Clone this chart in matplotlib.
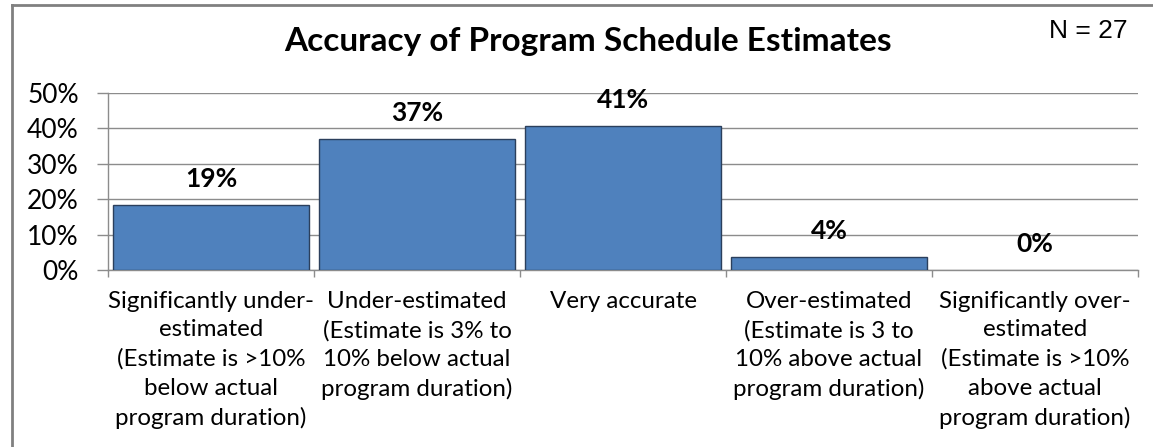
import matplotlib
matplotlib.use('Agg')
import matplotlib.pyplot as plt
from matplotlib.lines import Line2D
import numpy as np

# ── Data ────────────────────────────────────────────────────────────────
categories = [
    "Significantly under-\nestimated\n(Estimate is >10%\nbelow actual\nprogram duration)",
    "Under-estimated\n(Estimate is 3% to\n10% below actual\nprogram duration)",
    "Very accurate",
    "Over-estimated\n(Estimate is 3 to\n10% above actual\nprogram duration)",
    "Significantly over-\nestimated\n(Estimate is >10%\nabove actual\nprogram duration)",
]
shares = [0.185, 0.370, 0.407, 0.037, 0.0]
share_labels = ["19%", "37%", "41%", "4%", "0%"]
y_ticks = [0, 0.1, 0.2, 0.3, 0.4, 0.5]
y_tick_labels = ["0%", "10%", "20%", "30%", "40%", "50%"]

BAR = '#4F81BD'
EDGE = '#2B3F5C'
GRID = '#8C8C8C'
FONT = 'Lato'

fig = plt.figure(figsize=(11.53, 4.47), dpi=100)
ax = fig.add_axes([108 / 1153, 1 - 270 / 447, (1138 - 108) / 1153, (270 - 93) / 447])

x = np.arange(len(categories))
# no outline on empty bars, so the 0% column leaves the axis line alone
edge_widths = [1.0 if v > 0 else 0 for v in shares]
ax.bar(x, shares, width=0.95, color=BAR, edgecolor=EDGE, linewidth=edge_widths, zorder=3)

for xi, v, lab in zip(x, shares, share_labels):
    ax.annotate(lab, (xi, v), xytext=(0, 10), textcoords='offset points',
                ha='center', va='bottom', fontsize=19, fontweight='bold',
                family=FONT, color='black')

ax.set_xlim(-0.5, len(categories) - 0.5)
ax.set_ylim(0, 0.5)
ax.set_yticks(y_ticks)
ax.set_yticklabels(y_tick_labels, fontsize=19, family=FONT)
ax.yaxis.grid(True, color=GRID, linewidth=1.0, zorder=0)
ax.set_axisbelow(True)

ax.set_xticks(x)
ax.set_xticklabels(categories, fontsize=17.4, family=FONT, linespacing=1.45, va='top')
ax.tick_params(axis='x', which='major', length=0, pad=15)
ax.set_xticks(np.arange(-0.5, len(categories)), minor=True)
ax.tick_params(axis='x', which='minor', length=5, color=GRID, width=1.0)
ax.tick_params(axis='y', length=8, color=GRID, width=1.0, pad=13)

for side in ['top', 'right']:
    ax.spines[side].set_visible(False)
for side in ['left', 'bottom']:
    ax.spines[side].set_color(GRID)
    ax.spines[side].set_linewidth(1.0)

fig.text(588 / 1153, 1 - 42 / 447, "Accuracy of Program Schedule Estimates",
         ha='center', va='center', fontsize=24, fontweight='bold', family=FONT)
fig.text(1128 / 1153, 1 - 31 / 447, "N = 27", ha='right', va='center',
         fontsize=19, family='Liberation Sans')

# outer chart border (left and top visible)
fig.add_artist(Line2D([12 / 1153, 12 / 1153], [0, 1 - 5 / 447],
                      transform=fig.transFigure, color='#808080', linewidth=2))
fig.add_artist(Line2D([12 / 1153, 1], [1 - 5 / 447, 1 - 5 / 447],
                      transform=fig.transFigure, color='#808080', linewidth=2))

fig.savefig('out.png', dpi=100)
